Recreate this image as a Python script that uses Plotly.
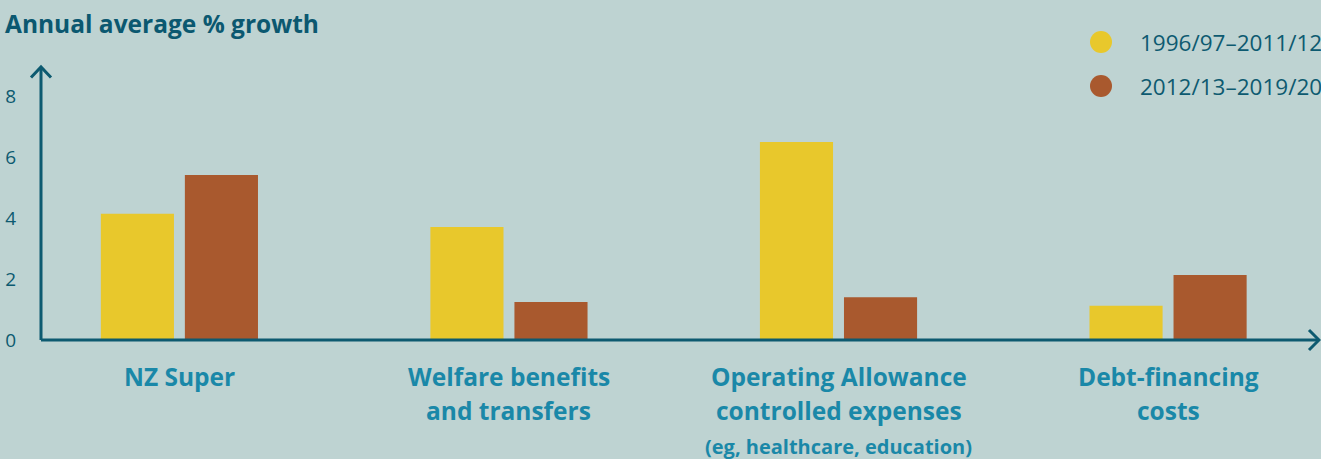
import plotly.graph_objects as go

# Spending categories (one label line per list entry) and growth figures
categories = ["NZ Super", "Welfare benefits", "Operating Allowance", "Debt-financing"]
category_lines = [
    ["NZ Super"],
    ["Welfare benefits", "and transfers"],
    ["Operating Allowance", "controlled expenses"],
    ["Debt-financing", "costs"],
]
category_notes = ["", "", "(eg, healthcare, education)", ""]

period_names = ["1996/97–2011/12", "2012/13–2019/20"]
growth_early = [4.15, 3.72, 6.51, 1.13]
growth_late = [5.43, 1.25, 1.41, 2.14]

y_ticks = [0, 2, 4, 6, 8]

# Styling
BG = "#bed3d2"
YELLOW = "#e8c82c"
BROWN = "#a9592e"
AXIS = "#0d5a70"
LABEL = "#1a88a8"
FONT = "Open Sans"

W, H = 1321, 459
M_L, M_R, M_T, M_B = 41, 2, 67, 119
PW = W - M_L - M_R
PH = H - M_T - M_B

x_pos = list(range(len(categories)))

fig = go.Figure()
fig.add_trace(go.Bar(x=x_pos, y=growth_early, name=period_names[0],
                     marker=dict(color=YELLOW, line=dict(width=0)), showlegend=False))
fig.add_trace(go.Bar(x=x_pos, y=growth_late, name=period_names[1],
                     marker=dict(color=BROWN, line=dict(width=0)), showlegend=False))

fig.update_layout(
    width=W, height=H,
    margin=dict(l=M_L, r=M_R, t=M_T, b=M_B, pad=0),
    paper_bgcolor=BG, plot_bgcolor=BG,
    barmode="group", bargap=0.49, bargroupgap=0.13,
    font=dict(family=FONT, color=AXIS),
    title=dict(text="<b>Annual average % growth</b>", x=5 / W, xanchor="left",
               y=1 - 24 / H, yanchor="middle", yref="container",
               font=dict(size=24.5, color="#0b5870", family=FONT)),
    xaxis=dict(range=[-0.42, 3.458], showgrid=False, zeroline=False,
               showline=False, showticklabels=False, ticks=""),
    yaxis=dict(range=[0, 8.98], showgrid=False, zeroline=False, showline=False,
               tickvals=y_ticks, ticktext=[str(v) for v in y_ticks], ticks="",
               ticklabelstandoff=24, tickfont=dict(size=19, color=AXIS, family=FONT)),
)

# Axis lines with open arrow heads (paper coordinates)
dx = 10 / PW
dy = 10.5 / PH
lw = 3
fig.add_shape(type="path", xref="paper", yref="paper",
              path=f"M {-dx},{1 - dy} L 0,1 L {dx},{1 - dy}",
              line=dict(color=AXIS, width=lw))
fig.add_shape(type="line", xref="paper", yref="paper", x0=0, x1=0, y0=0, y1=1,
              line=dict(color=AXIS, width=lw))
adx = 10 / PW
ady = 10 / PH
fig.add_shape(type="line", xref="paper", yref="paper", x0=0, x1=1, y0=0, y1=0,
              line=dict(color=AXIS, width=lw))
fig.add_shape(type="path", xref="paper", yref="paper",
              path=f"M {1 - adx},{ady} L 1,0 L {1 - adx},{-ady}",
              line=dict(color=AXIS, width=lw))

# Category labels below the axis
for xi, lines, note in zip(x_pos, category_lines, category_notes):
    for k, line in enumerate(lines):
        fig.add_annotation(x=xi, xref="x", y=0, yref="paper", yanchor="middle",
                           yshift=-(36 + 34 * k), text=f"<b>{line}</b>", showarrow=False,
                           font=dict(size=24.5, color=LABEL, family=FONT))
    if note:
        fig.add_annotation(x=xi, xref="x", y=0, yref="paper", yanchor="middle",
                           yshift=-106, text=f"<b>{note}</b>", showarrow=False,
                           font=dict(size=20, color=LABEL, family=FONT))

# Legend: coloured dots with period names
legend_rows = [(YELLOW, period_names[0], 42), (BROWN, period_names[1], 86)]
for color, name, py in legend_rows:
    yc = (H - M_B - py) / PH
    xc = (1101 - M_L) / PW
    fig.add_shape(type="circle", xref="paper", yref="paper",
                  xsizemode="pixel", ysizemode="pixel", xanchor=xc, yanchor=yc,
                  x0=-11, x1=11, y0=-11, y1=11,
                  fillcolor=color, line=dict(width=0))
    fig.add_annotation(x=(1324 - M_L) / PW, xref="paper", xanchor="right",
                       y=yc, yref="paper", yanchor="middle", text=name,
                       showarrow=False, font=dict(size=22.5, color=AXIS, family=FONT))

fig.write_html("out.html")
